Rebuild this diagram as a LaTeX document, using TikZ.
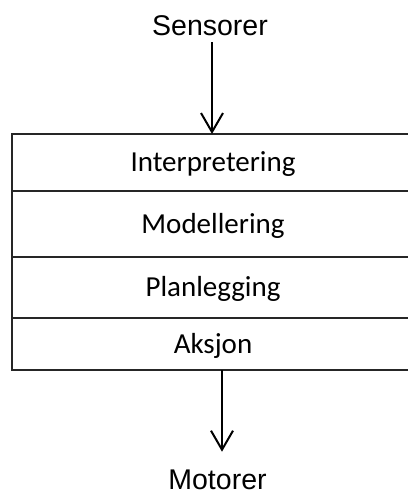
\documentclass[tikz,border=0pt]{standalone}
\usepackage{fontspec}
\setmainfont{Carlito}
\newfontfamily\labelfont{Liberation Sans}
\usetikzlibrary{arrows.meta,positioning}

\begin{document}
\begin{tikzpicture}[
    x=1pt, y=-1pt,
    lvl/.style={rectangle, outer sep=0pt, minimum width=402pt, align=center, font=\fontsize{29}{32}\selectfont, text height=18.5pt, text depth=0pt},
    frame/.style={draw=black!85, line width=1.3pt},
    io/.style={inner sep=0pt, font=\labelfont\fontsize{28.5}{32}\selectfont},
    arr/.style={-{Straight Barb[length=19pt, width=22pt]}, line width=2pt, draw=black}
]
    \useasboundingbox (0,0) rectangle (407,495);

    \node [io, anchor=base] (sens) at (210,35.7) {Sensorer};

    \node [lvl, minimum height=57pt, anchor=north] (interp) at (213,134) {Interpretering};
    \node [lvl, minimum height=66pt, below=0pt of interp] (model) {Modellering};
    \node [lvl, minimum height=61pt, below=0pt of model] (plan) {Planlegging};
    \node [lvl, minimum height=52pt, below=0pt of plan] (aksjon) {Aksjon};

    \node [io, anchor=base] (mot) at (217.5,489) {Motorer};

    % frame runs past the right edge
    \draw [frame] ([xshift=20pt]interp.north east) -- (interp.north west) -- (aksjon.south west) -- ([xshift=20pt]aksjon.south east);
    \foreach \r in {model,plan,aksjon}
        \draw [frame] (\r.north west) -- ([xshift=20pt]\r.north east);

    \draw [arr] ([xshift=2pt, yshift=-6pt]sens.south) -- ([xshift=-1pt]interp.north);
    \draw [arr] ([xshift=9pt]aksjon.south) -- ([xshift=4.5pt, yshift=17.5pt]mot.north);
\end{tikzpicture}
\end{document}
